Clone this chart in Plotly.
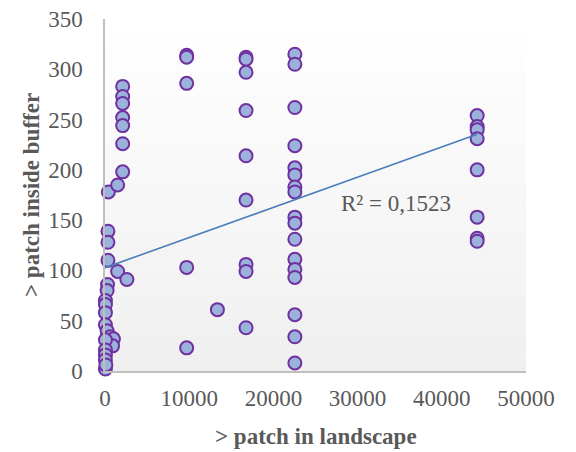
import plotly.graph_objects as go

# ---- data ----
x_origin = [300, 250, 50, 50, 50, 50, 250, 600, 800, 1000, 900, 50, 50, 50, 50, 50, 100]
y_origin = [86, 80, 70, 66, 58, 46, 40, 34, 28, 32, 25, 31, 21, 16, 11, 2, 6]

x_low = [350, 350, 350, 400, 1500, 1500, 2600,
         2100, 2100, 2100, 2100, 2100, 2100, 2100]
y_low = [139, 128, 110, 178, 185, 99, 91,
         283, 273, 266, 252, 244, 226, 198]

x_col10k = [9700, 9700, 9700, 9700, 9700, 13350]
y_col10k = [314, 312, 286, 103, 23, 61]

x_col17k = [16750] * 9
y_col17k = [312, 310, 297, 259, 214, 170, 106, 99, 43]

x_col23k = [22550] * 17
y_col23k = [315, 305, 262, 224, 202, 195, 183, 178, 153, 147, 131, 111, 101, 93, 56, 34, 8]

x_col44k = [44200] * 8
y_col44k = [254, 243, 240, 231, 200, 153, 132, 129]

x_vals = x_origin + x_low + x_col10k + x_col17k + x_col23k + x_col44k
y_vals = y_origin + y_low + y_col10k + y_col17k + y_col23k + y_col44k

# linear trend line
trend_intercept = 102.7
trend_slope = 0.0030
r2_label = "R² = 0,1523"

x_ticks = [0, 10000, 20000, 30000, 40000, 50000]
y_ticks = [0, 50, 100, 150, 200, 250, 300, 350]

FONT = "Liberation Serif, Times New Roman, serif"
GREY = "#595959"

fig = go.Figure()

trend_x = [0, max(x_vals)]
trend_y = [trend_intercept + trend_slope * v for v in trend_x]

fig.add_trace(go.Scatter(
    x=x_vals, y=y_vals, mode="markers",
    marker=dict(size=13, color="#9BB3DB", line=dict(color="#7030A0", width=2)),
    cliponaxis=False, showlegend=False, hoverinfo="x+y"))

fig.add_trace(go.Scatter(
    x=trend_x, y=trend_y, mode="lines",
    line=dict(color="#4A7EBB", width=1.6),
    cliponaxis=False, showlegend=False, hoverinfo="skip"))

# gradient plot background (white top -> light grey bottom)
shapes = []
n = 60
for i in range(n):
    t = (i + 0.5) / n  # 0 at bottom
    c = int(round(0xEF + (0xFF - 0xEF) * t))
    col = f"rgb({c},{c},{c})"
    shapes.append(dict(type="rect", xref="x domain", yref="y domain",
                       x0=0, x1=1, y0=i / n, y1=(i + 1) / n,
                       fillcolor=col, line=dict(width=0), layer="below"))

fig.update_layout(
    width=576, height=452,
    margin=dict(l=105, r=50, t=19, b=81),
    paper_bgcolor="white", plot_bgcolor="white",
    font=dict(family=FONT, size=23, color=GREY),
    shapes=shapes,
    xaxis=dict(range=[0, 50000], tickvals=x_ticks, ticktext=[str(v) for v in x_ticks],
               showgrid=False, zeroline=False, showline=True, linecolor="#BFBFBF",
               linewidth=1.5, ticks="", ticklabelstandoff=6, automargin=False,
               tickfont=dict(family=FONT, size=23, color=GREY)),
    yaxis=dict(range=[0, 350], tickvals=y_ticks, ticktext=[str(v) for v in y_ticks],
               showgrid=False, zeroline=False, showline=True, linecolor="#BFBFBF",
               linewidth=1.5, ticks="", ticklabelstandoff=16, automargin=False,
               tickfont=dict(family=FONT, size=23, color=GREY)),
    annotations=[
        dict(text=r2_label, x=34560, y=167, xref="x", yref="y", showarrow=False,
             font=dict(family=FONT, size=23, color=GREY)),
        dict(text="<b>> patch in landscape</b>", x=0.5, y=0, xref="paper", yref="paper",
             yshift=-65, showarrow=False, yanchor="middle",
             font=dict(family=FONT, size=23, color=GREY)),
        dict(text="<b>> patch inside buffer</b>", x=0, y=0.5, xref="paper", yref="paper",
             xshift=-74, showarrow=False, textangle=-90, xanchor="center",
             font=dict(family=FONT, size=23, color=GREY)),
    ],
)

fig.write_html(
    "out.html",
    config={"displayModeBar": False},
    post_script="document.body.style.margin='0';document.body.style.padding='0';",
)
